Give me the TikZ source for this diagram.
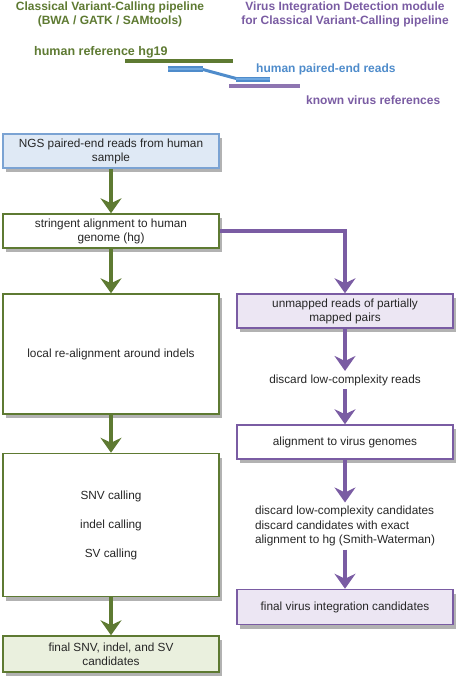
\documentclass[tikz,border=0pt]{standalone}
\usepackage{fontspec}
\setmainfont{Liberation Sans}
\usetikzlibrary{arrows.meta,shadows}

\definecolor{hgreen}{HTML}{5E7A32}
\definecolor{vpurple}{HTML}{7A5CA3}
\definecolor{rblue}{HTML}{4F8CCB}
\definecolor{rlblue}{HTML}{6FA8E0}
\definecolor{bblue}{HTML}{7BA3D3}
\definecolor{lblue}{HTML}{DFE9F5}
\definecolor{lgreen}{HTML}{EAF0DE}
\definecolor{lpurple}{HTML}{ECE6F3}

\begin{document}
\begin{tikzpicture}[
  x=1pt,y=-1pt,
  box/.style={rectangle,draw,line width=1.5pt,minimum width=216pt,text=black!85,
    align=center,font=\fontsize{11.8}{14}\selectfont,
    drop shadow={shadow xshift=3pt,shadow yshift=-4pt,opacity=0.3,fill=black}},
  gbox/.style={box,draw=hgreen,fill=white},
  pbox/.style={box,draw=vpurple,fill=white},
  step label/.style={align=left,text=black!85,font=\fontsize{11.8}{14.5}\selectfont},
  title/.style={align=center,font=\bfseries\fontsize{12}{14}\selectfont},
  read/.style={draw=rblue,line width=5pt,postaction={draw=rlblue,line width=2.5pt}},
  garrow/.style={draw=hgreen,line width=3.8pt,-{Stealth[length=15pt,width=21pt,inset=5pt]}},
  parrow/.style={draw=vpurple,line width=3.8pt,-{Stealth[length=15pt,width=21pt,inset=5pt]}}
]
  \useasboundingbox (0,0) rectangle (467,685);

  % titles and legend
  \node[title,text=hgreen] (tcvc) at (110,14) {Classical Variant-Calling pipeline\\(BWA / GATK / SAMtools)};
  \node[title,text=vpurple] (tvid) at (345,14) {Virus Integration Detection module\\for Classical Variant-Calling pipeline};
  \node[title,text=hgreen,anchor=west,inner sep=0pt,font=\bfseries\fontsize{12.5}{14}\selectfont] (lhg) at (34,52) {human reference hg19};
  \node[title,text=rblue,anchor=west,inner sep=0pt] (lreads) at (256,69) {human paired-end reads};
  \node[title,text=vpurple,anchor=west,inner sep=0pt] (lvirus) at (306,100) {known virus references};
  \draw[hgreen,line width=3.5pt] (125,61) -- (233,61);
  \draw[rblue,line width=3pt] (201,69) -- (238,79);
  \draw[read] (168,69) -- (203,69);
  \draw[read] (236,79) -- (270,79);
  \draw[vpurple!85,line width=3.5pt] (229,86) -- (300,86);

  % left pipeline
  \node[box,draw=bblue,fill=lblue,minimum height=34pt] (ngs) at (111,151) {NGS paired-end reads from human\\sample};
  \node[gbox,minimum height=34pt] (strg) at (111,231) {stringent alignment to human\\genome (hg)};
  \node[gbox,minimum height=120pt] (realn) at (111,354) {local re-alignment around indels};
  \node[gbox,minimum height=143pt] (call) at (111,525) {SNV calling\\[15pt]indel calling\\[15pt]SV calling};
  \node[box,draw=hgreen,fill=lgreen,minimum height=36pt] (fcvc) at (111,654) {final SNV, indel, and SV\\candidates};

  % right module
  \node[box,draw=vpurple,fill=lpurple,minimum height=34pt] (unm) at (345,311) {unmapped reads of partially\\mapped pairs};
  \node[step label] (dlcr) at (345,380) {discard low-complexity reads};
  \node[pbox,minimum height=34pt] (valn) at (345,442) {alignment to virus genomes};
  \node[step label] (dcand) at (345,526) {discard low-complexity candidates\\discard candidates with exact\\alignment to hg (Smith-Waterman)};
  \node[box,draw=vpurple,fill=lpurple,minimum height=35pt] (fvid) at (345,607) {final virus integration candidates};

  \draw[garrow] (ngs) -- (strg);
  \draw[garrow] (strg) -- (realn);
  \draw[garrow] (realn) -- (call);
  \draw[garrow] (call) -- (fcvc);
  \draw[parrow] (strg.east) -| (unm.north);
  \draw[parrow] (unm) -- (dlcr);
  \draw[parrow] (dlcr) -- (valn);
  \draw[parrow] (valn) -- (dcand);
  \draw[parrow] (dcand) -- (fvid);
\end{tikzpicture}
\end{document}
